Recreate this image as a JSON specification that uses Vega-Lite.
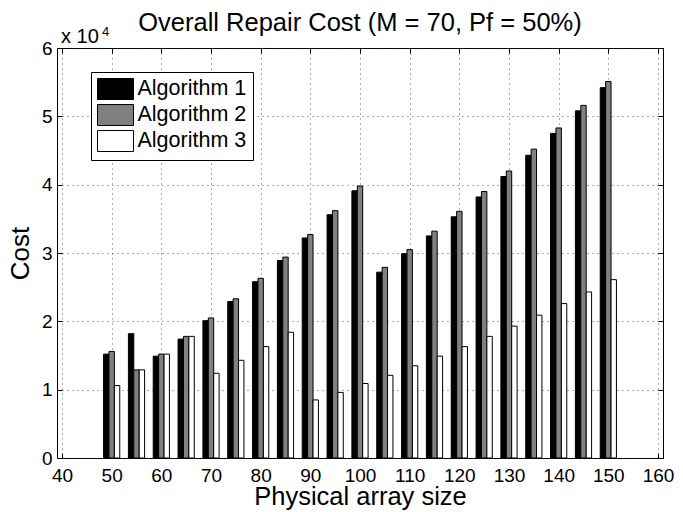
{
  "$schema": "https://vega.github.io/schema/vega-lite/v6.json",
  "autosize": "none",
  "width": 606,
  "height": 410,
  "padding": {"left": 57, "top": 48, "right": 20, "bottom": 54},
  "background": "white",
  "title": {"text": "Overall Repair Cost (M = 70, Pf = 50%)", "font": "Liberation Sans", "fontSize": 25.5, "fontWeight": "normal", "color": "black", "anchor": "middle", "offset": -11},
  "config": {
    "view": {"stroke": "black", "strokeWidth": 1},
    "axis": {"labelFont": "Liberation Sans", "titleFont": "Liberation Sans", "labelColor": "black", "titleColor": "black", "titleFontWeight": "normal", "domain": false, "tickColor": "black", "tickSize": -5, "gridColor": "#333333", "gridDash": [1, 4], "gridOpacity": 0.8}
  },
  "datasets": {
    "costs": [
      {"size": 50, "algo": "Algorithm 1", "cost": 15200}, {"size": 50, "algo": "Algorithm 2", "cost": 15600}, {"size": 50, "algo": "Algorithm 3", "cost": 10600},
      {"size": 55, "algo": "Algorithm 1", "cost": 18200}, {"size": 55, "algo": "Algorithm 2", "cost": 12900}, {"size": 55, "algo": "Algorithm 3", "cost": 12900},
      {"size": 60, "algo": "Algorithm 1", "cost": 14900}, {"size": 60, "algo": "Algorithm 2", "cost": 15200}, {"size": 60, "algo": "Algorithm 3", "cost": 15200},
      {"size": 65, "algo": "Algorithm 1", "cost": 17400}, {"size": 65, "algo": "Algorithm 2", "cost": 17800}, {"size": 65, "algo": "Algorithm 3", "cost": 17800},
      {"size": 70, "algo": "Algorithm 1", "cost": 20100}, {"size": 70, "algo": "Algorithm 2", "cost": 20500}, {"size": 70, "algo": "Algorithm 3", "cost": 12400},
      {"size": 75, "algo": "Algorithm 1", "cost": 22900}, {"size": 75, "algo": "Algorithm 2", "cost": 23300}, {"size": 75, "algo": "Algorithm 3", "cost": 14300},
      {"size": 80, "algo": "Algorithm 1", "cost": 25800}, {"size": 80, "algo": "Algorithm 2", "cost": 26300}, {"size": 80, "algo": "Algorithm 3", "cost": 16300},
      {"size": 85, "algo": "Algorithm 1", "cost": 28900}, {"size": 85, "algo": "Algorithm 2", "cost": 29400}, {"size": 85, "algo": "Algorithm 3", "cost": 18400},
      {"size": 90, "algo": "Algorithm 1", "cost": 32200}, {"size": 90, "algo": "Algorithm 2", "cost": 32700}, {"size": 90, "algo": "Algorithm 3", "cost": 8500},
      {"size": 95, "algo": "Algorithm 1", "cost": 35600}, {"size": 95, "algo": "Algorithm 2", "cost": 36200}, {"size": 95, "algo": "Algorithm 3", "cost": 9600},
      {"size": 100, "algo": "Algorithm 1", "cost": 39100}, {"size": 100, "algo": "Algorithm 2", "cost": 39800}, {"size": 100, "algo": "Algorithm 3", "cost": 10900},
      {"size": 105, "algo": "Algorithm 1", "cost": 27200}, {"size": 105, "algo": "Algorithm 2", "cost": 27900}, {"size": 105, "algo": "Algorithm 3", "cost": 12100},
      {"size": 110, "algo": "Algorithm 1", "cost": 29900}, {"size": 110, "algo": "Algorithm 2", "cost": 30500}, {"size": 110, "algo": "Algorithm 3", "cost": 13500},
      {"size": 115, "algo": "Algorithm 1", "cost": 32500}, {"size": 115, "algo": "Algorithm 2", "cost": 33200}, {"size": 115, "algo": "Algorithm 3", "cost": 14900},
      {"size": 120, "algo": "Algorithm 1", "cost": 35300}, {"size": 120, "algo": "Algorithm 2", "cost": 36100}, {"size": 120, "algo": "Algorithm 3", "cost": 16300},
      {"size": 125, "algo": "Algorithm 1", "cost": 38200}, {"size": 125, "algo": "Algorithm 2", "cost": 39000}, {"size": 125, "algo": "Algorithm 3", "cost": 17800},
      {"size": 130, "algo": "Algorithm 1", "cost": 41200}, {"size": 130, "algo": "Algorithm 2", "cost": 42000}, {"size": 130, "algo": "Algorithm 3", "cost": 19300},
      {"size": 135, "algo": "Algorithm 1", "cost": 44300}, {"size": 135, "algo": "Algorithm 2", "cost": 45200}, {"size": 135, "algo": "Algorithm 3", "cost": 20900},
      {"size": 140, "algo": "Algorithm 1", "cost": 47500}, {"size": 140, "algo": "Algorithm 2", "cost": 48300}, {"size": 140, "algo": "Algorithm 3", "cost": 22600},
      {"size": 145, "algo": "Algorithm 1", "cost": 50800}, {"size": 145, "algo": "Algorithm 2", "cost": 51600}, {"size": 145, "algo": "Algorithm 3", "cost": 24300},
      {"size": 150, "algo": "Algorithm 1", "cost": 54200}, {"size": 150, "algo": "Algorithm 2", "cost": 55100}, {"size": 150, "algo": "Algorithm 3", "cost": 26100}
    ]
  },
  "resolve": {"axis": {"x": "independent", "y": "independent"}},
  "layer": [
    {
      "data": {"name": "costs"},
      "transform": [{"filter": "datum.algo === 'Algorithm 1'"}],
      "mark": {"type": "bar", "orient": "vertical", "width": 5.4, "xOffset": -5.4, "stroke": "black", "strokeWidth": 1},
      "encoding": {
        "x": {"field": "size", "type": "quantitative", "scale": {"domain": [40, 160], "nice": false, "zero": false},
              "axis": {"orient": "bottom", "values": [40, 50, 60, 70, 80, 90, 100, 110, 120, 130, 140, 150, 160], "labelFontSize": 19, "labelPadding": 13, "title": "Physical array size", "titleFontSize": 25.5, "titlePadding": -1, "grid": true, "labelFlush": false}},
        "y": {"field": "cost", "type": "quantitative", "scale": {"domain": [0, 60000], "nice": false},
              "axis": {"orient": "left", "values": [0, 10000, 20000, 30000, 40000, 50000, 60000], "labelExpr": "datum.value / 10000", "labelFontSize": 19, "labelPadding": 10, "title": "Cost", "titleFontSize": 26, "titlePadding": 8, "grid": true}},
        "fill": {"field": "algo", "type": "nominal", "scale": {"domain": ["Algorithm 1", "Algorithm 2", "Algorithm 3"], "range": ["#000000", "#808080", "#ffffff"]},
                 "legend": {"orient": "none", "legendX": 34, "legendY": 24, "title": null, "strokeColor": "black", "fillColor": "white", "padding": 6, "symbolType": "M-1.714,-1H1.714V1H-1.714Z", "symbolSize": 441, "symbolOffset": 7.5, "symbolStrokeColor": "black", "symbolStrokeWidth": 1, "symbolOpacity": 1, "labelFont": "Liberation Sans", "labelFontSize": 21.5, "labelColor": "black", "labelOffset": 11, "rowPadding": 0}}
      }
    },
    {
      "data": {"name": "costs"},
      "transform": [{"filter": "datum.algo === 'Algorithm 2'"}],
      "mark": {"type": "bar", "orient": "vertical", "width": 5.4, "xOffset": 0, "stroke": "black", "strokeWidth": 1},
      "encoding": {
        "x": {"field": "size", "type": "quantitative", "axis": {"orient": "top", "values": [40, 50, 60, 70, 80, 90, 100, 110, 120, 130, 140, 150, 160], "labels": false, "title": null, "grid": false}},
        "y": {"field": "cost", "type": "quantitative", "axis": {"orient": "right", "values": [0, 10000, 20000, 30000, 40000, 50000, 60000], "labels": false, "title": null, "grid": false}},
        "fill": {"field": "algo", "type": "nominal"}
      }
    },
    {
      "data": {"name": "costs"},
      "transform": [{"filter": "datum.algo === 'Algorithm 3'"}],
      "mark": {"type": "bar", "orient": "vertical", "width": 5.4, "xOffset": 5.4, "stroke": "black", "strokeWidth": 1},
      "encoding": {
        "x": {"field": "size", "type": "quantitative", "axis": null},
        "y": {"field": "cost", "type": "quantitative", "axis": null},
        "fill": {"field": "algo", "type": "nominal"}
      }
    },
    {
      "data": {"values": [{"label": "x 10"}]},
      "mark": {"type": "text", "font": "Liberation Sans", "fontSize": 20, "align": "left", "baseline": "alphabetic", "dx": -1, "dy": -5, "color": "black"},
      "encoding": {
        "text": {"field": "label", "type": "nominal"},
        "x": {"datum": 40, "type": "quantitative", "axis": null},
        "y": {"datum": 60000, "type": "quantitative", "axis": null}
      }
    },
    {
      "data": {"values": [{"label": "4"}]},
      "mark": {"type": "text", "font": "Liberation Sans", "fontSize": 13, "align": "left", "baseline": "alphabetic", "dx": 40, "dy": -12.5, "color": "black"},
      "encoding": {
        "text": {"field": "label", "type": "nominal"},
        "x": {"datum": 40, "type": "quantitative", "axis": null},
        "y": {"datum": 60000, "type": "quantitative", "axis": null}
      }
    }
  ]
}
